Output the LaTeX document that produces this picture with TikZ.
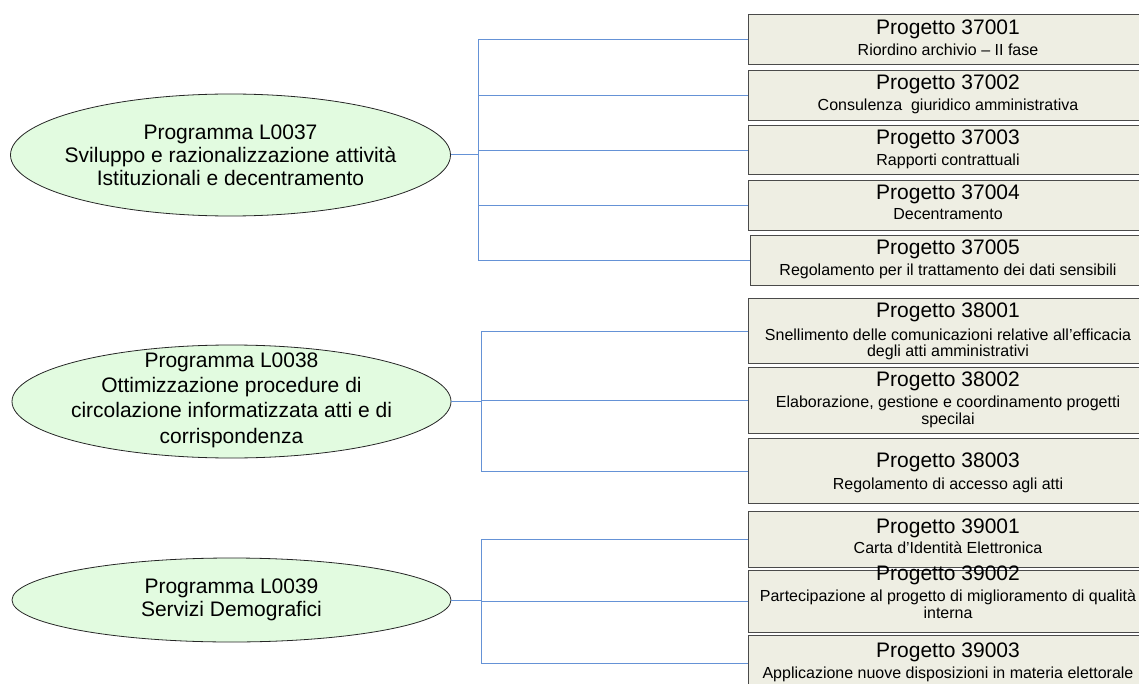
\documentclass[tikz,border=0pt]{standalone}
\usepackage{fontspec}
\setmainfont{Liberation Sans}
\usetikzlibrary{shapes.geometric}
\definecolor{boxfill}{HTML}{EEEEE3}
\definecolor{boxline}{HTML}{4A4A4A}
\definecolor{ellfill}{HTML}{E2FBE0}
\definecolor{conn}{HTML}{6592D6}
\begin{document}
\begin{tikzpicture}[x=1pt,y=-1pt,
  prog/.style={ellipse, draw=black!85, fill=ellfill, line width=0.8pt, inner sep=0pt},
  etext/.style={anchor=base, font=\fontsize{21}{25}\selectfont, inner sep=0pt},
  proj/.style={rectangle, draw=boxline, fill=boxfill, line width=1.3pt, anchor=north west, inner sep=0pt, minimum width=400pt},
  ttl/.style={anchor=base, font=\fontsize{21}{25}\selectfont, inner sep=0pt},
  sub/.style={anchor=base, font=\fontsize{16}{18}\selectfont, inner sep=0pt},
  link/.style={draw=conn, line width=1pt}]
\path[use as bounding box] (0,0) rectangle (1139,684);
\clip (0,0) rectangle (1139,684);

% programmes
\node[prog, minimum width=440pt, minimum height=122pt] (e1) at (230.5,155) {};
\node[etext] at (230.5,140) {Programma L0037};
\node[etext] at (230.5,163) {Sviluppo e razionalizzazione attività};
\node[etext] at (230.5,186) {Istituzionali e decentramento};

\node[prog, minimum width=439pt, minimum height=113pt] (e2) at (231.5,401.5) {};
\node[etext] at (231.5,367) {Programma L0038};
\node[etext] at (231.5,392) {Ottimizzazione procedure di};
\node[etext] at (231.5,417) {circolazione informatizzata atti e di};
\node[etext] at (231.5,443) {corrispondenza};

\node[prog, minimum width=439pt, minimum height=84pt] (e3) at (231.5,600) {};
\node[etext] at (231.5,593) {Programma L0039};
\node[etext] at (231.5,616) {Servizi Demografici};

% projects
\node[proj, minimum height=50pt] (p37001) at (748,14) {};
\node[ttl] at (948,35) {Progetto 37001};
\node[sub] at (948,56) {Riordino archivio – II fase};

\node[proj, minimum height=50pt] (p37002) at (748,70) {};
\node[ttl] at (948,90) {Progetto 37002};
\node[sub] at (948,111) {Consulenza\ \ giuridico amministrativa};

\node[proj, minimum height=49pt] (p37003) at (748,125) {};
\node[ttl] at (948,145) {Progetto 37003};
\node[sub] at (948,166) {Rapporti contrattuali};

\node[proj, minimum height=50pt] (p37004) at (748,180) {};
\node[ttl] at (948,200) {Progetto 37004};
\node[sub] at (948,220) {Decentramento};

\node[proj, minimum height=50pt] (p37005) at (750,235) {};
\node[ttl] at (948,255) {Progetto 37005};
\node[sub] at (948,276) {Regolamento per il trattamento dei dati sensibili};

\node[proj, minimum height=65pt] (p38001) at (748,298) {};
\node[ttl] at (948,317) {Progetto 38001};
\node[sub] at (948,340) {Snellimento delle comunicazioni relative all’efficacia};
\node[sub] at (948,356) {degli atti amministrativi};

\node[proj, minimum height=66pt] (p38002) at (748,367) {};
\node[ttl] at (948,386) {Progetto 38002};
\node[sub] at (948,407) {Elaborazione, gestione e coordinamento progetti};
\node[sub] at (948,424) {specilai};

\node[proj, minimum height=65pt] (p38003) at (748,438) {};
\node[ttl] at (948,467) {Progetto 38003};
\node[sub] at (948,489) {Regolamento di accesso agli atti};

\node[proj, minimum height=56pt] (p39001) at (748,511) {};
\node[ttl] at (948,533) {Progetto 39001};
\node[sub] at (948,553) {Carta d’Identità Elettronica};

\node[proj, minimum height=62pt] (p39002) at (748,570) {};
\node[ttl] at (948,580) {Progetto 39002};
\node[sub] at (948,601) {Partecipazione al progetto di miglioramento di qualità};
\node[sub] at (948,618) {interna};

\node[proj, minimum height=56pt] (p39003) at (748,635) {};
\node[ttl] at (948,657) {Progetto 39003};
\node[sub] at (948,678) {Applicazione nuove disposizioni in materia elettorale};

% connectors
\foreach \p in {p37001,p37002,p37003,p37004,p37005}
  \draw[link] (e1.east) -- ++(27.5,0) |- (\p.west);
\foreach \p in {p38001,p38002,p38003}
  \draw[link] (e2.east) -- ++(30.5,0) |- (\p.west);
\foreach \p in {p39001,p39002,p39003}
  \draw[link] (e3.east) -- ++(30.5,0) |- (\p.west);
\end{tikzpicture}
\end{document}
